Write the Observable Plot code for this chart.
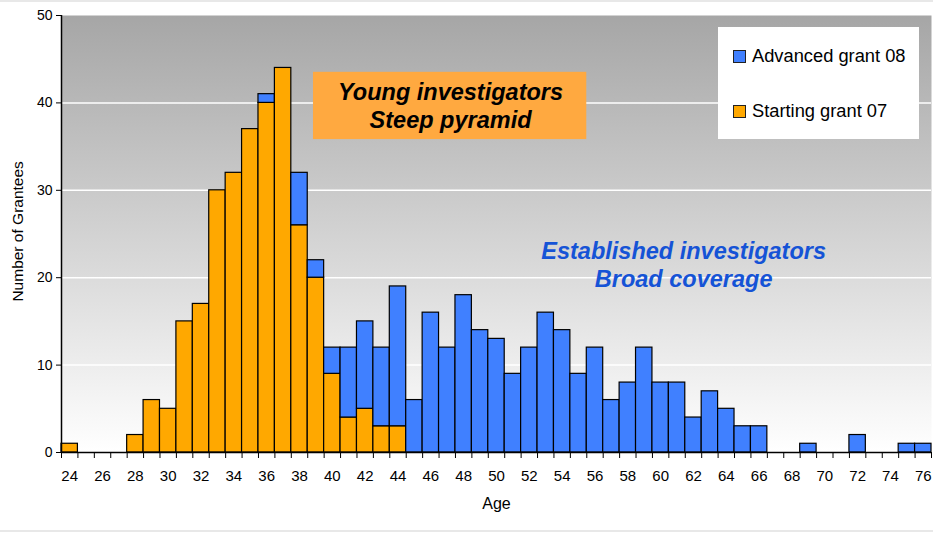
<!DOCTYPE html>
<html>
<head>
<meta charset="utf-8">
<script src="https://cdn.jsdelivr.net/npm/d3@7"></script>
<script src="https://cdn.jsdelivr.net/npm/@observablehq/plot@0.6"></script>
<style>
  body { margin: 0; background: #fff; font-family: "Liberation Sans", Arial, sans-serif; }
  #wrap { position: relative; width: 933px; height: 533px; overflow: hidden; }
  .band { position: absolute; left: 0; width: 933px; background: #e8e8e8; }
  #legend { position: absolute; left: 718px; top: 27px; width: 201px; height: 112px; background: #fff; font-size: 18.3px; color: #000; }
  .li { position: absolute; left: 15px; display: flex; align-items: center; white-space: nowrap; }
  .sw { width: 11px; height: 11px; margin-right: 6px; border: 1px solid #222; }
</style>
</head>
<body>
<div id="wrap">
  <div class="band" style="top:0;height:2px"></div>
  <div class="band" style="top:530px;height:2px"></div>
  <div id="chart"></div>
  <div id="legend"></div>
</div>
<script>
const ages = d3.range(24, 77);
const starting = [1,0,0,0,2,6,5,15,17,30,32,37,40,44,26,20,9,4,5,3,3,0,0,0,0,0,0,0,0,0,0,0,0,0,0,0,0,0,0,0,0,0,0,0,0,0,0,0,0,0,0,0,0];
const advanced = [0,0,0,0,0,0,0,0,0,0,0,0,1,0,6,2,3,8,10,9,16,6,16,12,18,14,13,9,12,16,14,9,12,6,8,12,8,8,4,7,5,3,3,0,0,1,0,0,2,0,0,1,1];
const seriesNames = ["Advanced grant 08", "Starting grant 07"];
const seriesColors = ["#4080ff", "#ffa800"];
const yTicks = [0, 10, 20, 30, 40, 50];
const xLabelTicks = ages.filter(a => a % 2 === 0);
const yTitle = "Number of Grantees";
const xTitle = "Age";
const notes = [
  {lines: ["Young investigators", "Steep pyramid"], color: "#000"},
  {lines: ["Established investigators", "Broad coverage"], color: "#1553d6"}
];

const bars = [];
ages.forEach((a, i) => {
  if (starting[i] > 0) bars.push({age: a, y1: 0, y2: starting[i], s: seriesNames[1]});
  if (advanced[i] > 0) bars.push({age: a, y1: starting[i], y2: starting[i] + advanced[i], s: seriesNames[0]});
});
const boundaries = ages.map(a => a - 0.5).concat([ages[ages.length - 1] + 0.5]);

const chart = Plot.plot({
  width: 933,
  height: 533,
  marginLeft: 61,
  marginRight: 2,
  marginTop: 15,
  marginBottom: 81,
  style: {fontFamily: "Liberation Sans, Arial, sans-serif", fontSize: "15px", color: "#000", background: "transparent"},
  x: {type: "linear", domain: [ages[0] - 0.5, ages[ages.length - 1] + 0.5]},
  y: {domain: [0, 50]},
  color: {domain: seriesNames, range: seriesColors},
  marks: [
    Plot.frame({fill: "url(#bggrad)", stroke: "none"}),
    Plot.ruleY(yTicks.filter(t => t > 0 && t < 50), {stroke: "#fff", strokeWidth: 1.5}),
    Plot.rect(bars, {x1: d => d.age - 0.5, x2: d => d.age + 0.5, y1: "y1", y2: "y2", fill: "s", stroke: "#000", strokeWidth: 1.2}),
    Plot.rect([0], {x1: 38.85, x2: 55.5, y1: 35.8, y2: 43.5, fill: "#ffa940"}),
    Plot.text([notes[0].lines.join("\n")], {x: 47.2, y: 39.75, fill: notes[0].color, fontSize: 23.5, fontWeight: "bold", fontStyle: "italic", lineHeight: 1.2, text: d => d}),
    Plot.text([notes[1].lines.join("\n")], {x: 61.4, y: 21.6, fill: notes[1].color, fontSize: 23.5, fontWeight: "bold", fontStyle: "italic", lineHeight: 1.2, text: d => d}),
    Plot.axisY(yTicks, {tickSize: 5, tickPadding: 4, fontSize: 14, label: null}),
    Plot.axisX(xLabelTicks, {tickSize: 0, tickPadding: 18, fontSize: 15, label: null}),
    Plot.axisX(boundaries, {tickSize: 6, tickFormat: () => "", label: null}),
    Plot.text([yTitle], {x: 20.88, y: 25.3, rotate: -90, fontSize: 15.5, fill: "#000", clip: false, text: d => d}),
    Plot.text([xTitle], {frameAnchor: "bottom", dy: 56, fontSize: 16, fill: "#000", text: d => d}),
    Plot.ruleY([0], {stroke: "#000", strokeWidth: 1.5}),
    Plot.ruleX([ages[0] - 0.5], {stroke: "#000", strokeWidth: 1.5})
  ]
});

const ns = "http://www.w3.org/2000/svg";
const defs = document.createElementNS(ns, "defs");
defs.innerHTML = '<linearGradient id="bggrad" x1="0" y1="0" x2="0" y2="1"><stop offset="0" stop-color="#a6a6a6"/><stop offset="1" stop-color="#ffffff"/></linearGradient>';
chart.insertBefore(defs, chart.firstChild);
document.getElementById("chart").appendChild(chart);

const legend = document.getElementById("legend");
seriesNames.forEach((n, i) => {
  const row = document.createElement("div");
  row.className = "li";
  row.style.top = (i === 0 ? 18 : 73) + "px";
  row.innerHTML = `<span class="sw" style="background:${seriesColors[i]}"></span><span>${n}</span>`;
  legend.appendChild(row);
});
</script>
</body>
</html>
